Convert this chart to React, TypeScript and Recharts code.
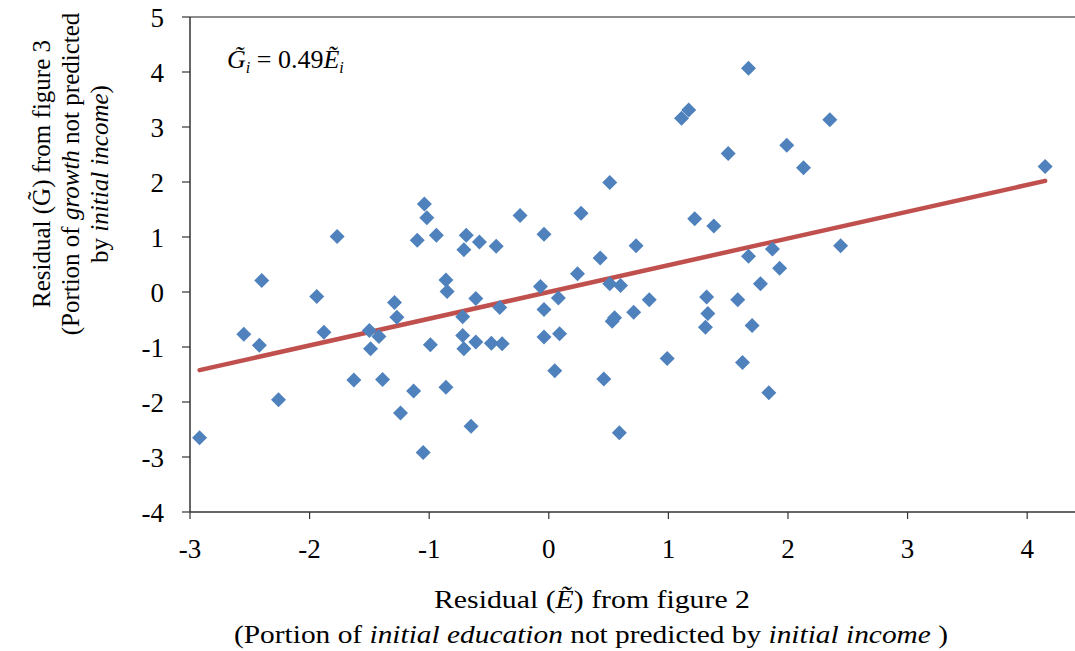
import { ScatterChart, Scatter, XAxis, YAxis, ReferenceLine } from "recharts"

const FONT = "'Liberation Serif', 'Times New Roman', serif"

// residual of education (x) and residual of growth (y), one entry per country
const eResid = [
  -2.92, -2.55, -2.42, -2.40, -2.26, -1.94, -1.88, -1.77, -1.63, -1.50,
  -1.49, -1.42, -1.39, -1.29, -1.27, -1.24, -1.13, -1.10, -1.05, -1.04,
  -1.02, -0.99, -0.94, -0.86, -0.85, -0.86, -0.72, -0.72, -0.71, -0.71,
  -0.69, -0.65, -0.61, -0.61, -0.58, -0.48, -0.44, -0.41, -0.39, -0.24,
  -0.07, -0.04, -0.04, -0.04, 0.05, 0.08, 0.09, 0.24, 0.27, 0.43,
  0.46, 0.51, 0.51, 0.53, 0.55, 0.60, 0.59, 0.71, 0.73, 0.84,
  0.99, 1.11, 1.17, 1.22, 1.32, 1.33, 1.31, 1.38, 1.50, 1.58,
  1.62, 1.67, 1.67, 1.70, 1.77, 1.84, 1.87, 1.93, 1.99, 2.13,
  2.35, 2.44, 4.15
]

const gResid = [
  -2.65, -0.77, -0.97, 0.21, -1.96, -0.08, -0.73, 1.01, -1.60, -0.70,
  -1.03, -0.81, -1.59, -0.19, -0.46, -2.20, -1.80, 0.94, -2.92, 1.60,
  1.35, -0.96, 1.03, 0.22, 0.01, -1.73, -0.45, -0.79, -1.03, 0.77,
  1.03, -2.44, -0.12, -0.91, 0.91, -0.93, 0.83, -0.28, -0.94, 1.39,
  0.10, -0.32, 1.05, -0.82, -1.43, -0.11, -0.76, 0.33, 1.43, 0.62,
  -1.58, 1.99, 0.15, -0.53, -0.47, 0.12, -2.56, -0.37, 0.84, -0.14,
  -1.21, 3.16, 3.31, 1.33, -0.09, -0.39, -0.64, 1.20, 2.52, -0.14,
  -1.28, 4.07, 0.65, -0.61, 0.15, -1.83, 0.78, 0.43, 2.67, 2.26,
  3.13, 0.84, 2.28
]

// fitted line end points
const trendX = [-2.92, 4.15]
const trendY = [-1.42, 2.02]

const xTicks = [-3, -2, -1, 0, 1, 2, 3, 4]
const yTicks = [-4, -3, -2, -1, 0, 1, 2, 3, 4, 5]

const points = eResid.map((e, i) => ({ x: e, y: gResid[i] }))
const trend = trendX.map((e, i) => ({ x: e, y: trendY[i] }))

function Diamond(props: any) {
  const { cx, cy } = props
  const r = 7.5
  return (
    <polygon
      points={`${cx},${cy - r} ${cx + r},${cy} ${cx},${cy + r} ${cx - r},${cy}`}
      fill="#4F81BD"
    />
  )
}

export default function App() {

  return (

    <div style={{ position: "absolute", left: 0, top: 0, width: 1075, height: 651, background: "#fff" }}>

      <ScatterChart
        width={1075}
        height={651}
        margin={{ top: 17, right: 0, bottom: 0, left: 0 }}
      >

        <XAxis
          type="number"
          dataKey="x"
          domain={[-3, 4.4]}
          ticks={xTicks}
          height={139}
          tickSize={7}
          tickMargin={20}
          axisLine={{ stroke: "#333", strokeWidth: 1.5 }}
          tickLine={{ stroke: "#333", strokeWidth: 1.2 }}
          tick={{ fontSize: 27, fill: "#000", fontFamily: FONT }}
        />

        <YAxis
          type="number"
          dataKey="y"
          domain={[-4, 5]}
          ticks={yTicks}
          width={190}
          tickSize={8}
          tickMargin={18}
          axisLine={{ stroke: "#333", strokeWidth: 1.5 }}
          tickLine={{ stroke: "#333", strokeWidth: 1.2 }}
          tick={{ fontSize: 27, fill: "#000", fontFamily: FONT }}
        />

        <ReferenceLine y={5} stroke="#8c8c8c" strokeWidth={2} />

        <Scatter
          data={trend}
          line={{ stroke: "#C0504D", strokeWidth: 4.5, strokeLinecap: "round" }}
          shape={() => <g />}
          isAnimationActive={false}
        />

        <Scatter
          data={points}
          fill="#4F81BD"
          shape={Diamond}
          isAnimationActive={false}
        />

      </ScatterChart>

      <svg
        width={1075}
        height={651}
        style={{ position: "absolute", left: 0, top: 0, pointerEvents: "none" }}
        fontFamily={FONT}
        fill="#000"
      >

        <text x={227} y={68} fontSize={26}>
          <tspan fontStyle="italic">{"G\u0303"}</tspan>
          <tspan fontStyle="italic" fontSize={16} dy={5}>i</tspan>
          <tspan dy={-5}>{" = 0.49"}</tspan>
          <tspan fontStyle="italic">{"\u1EBC"}</tspan>
          <tspan fontStyle="italic" fontSize={16} dy={5}>i</tspan>
        </text>

        <text x={434} y={608} fontSize={26} textLength={316} lengthAdjust="spacingAndGlyphs">
          Residual (<tspan fontStyle="italic">{"\u1EBC"}</tspan>) from figure 2
        </text>

        <text x={234} y={643} fontSize={26} textLength={714} lengthAdjust="spacingAndGlyphs">
          (Portion of <tspan fontStyle="italic">initial education</tspan> not predicted by <tspan fontStyle="italic">initial income</tspan> )
        </text>

        <text x={50} y={174} fontSize={25} textAnchor="middle" transform="rotate(-90 50 174)">
          {"Residual (G\u0303) from figure 3"}
        </text>

        <text x={79} y={174} fontSize={25} textAnchor="middle" transform="rotate(-90 79 174)">
          (Portion of <tspan fontStyle="italic">growth</tspan> not predicted
        </text>

        <text x={108} y={174} fontSize={25} textAnchor="middle" transform="rotate(-90 108 174)">
          by <tspan fontStyle="italic">initial income</tspan>)
        </text>

      </svg>

    </div>

  )

}
